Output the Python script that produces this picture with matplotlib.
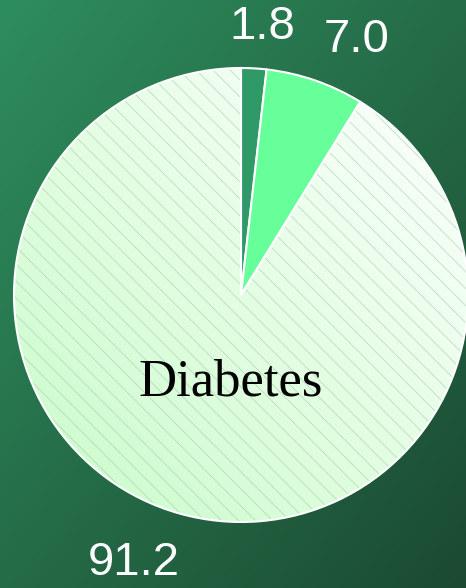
import numpy as np
import matplotlib
matplotlib.use("Agg")
import matplotlib.pyplot as plt
from matplotlib.colors import LinearSegmentedColormap

# share of population (%)
labels = ["1.8", "7.0", "91.2"]
values = [1.8, 7.0, 91.2]
colors = ["#2f9a68", "#66ff99", "#e6ffea"]
center_label = "Diabetes"

W, H = 466, 588
fig = plt.figure(figsize=(W / 100, H / 100), dpi=100)
ax = fig.add_axes([0, 0, 1, 1])

cx, cy, r = 241, 293, 227
wedges, _ = ax.pie(values, colors=colors, startangle=90, counterclock=False,
                   center=(cx, cy), radius=r, frame=True,
                   wedgeprops=dict(edgecolor="white", linewidth=1.5))
ax.set_xlim(0, W)
ax.set_ylim(0, H)
ax.set_aspect("auto")
ax.axis("off")

# diagonal background gradient, lighter at top-left
yy, xx = np.mgrid[0:1:200j, 0:1:200j]
t = (xx + (1 - yy)) / 2
bg = LinearSegmentedColormap.from_list("bg", ["#2e8d5e", "#1b4a31"])
ax.imshow(bg(t), extent=[0, W, 0, H], origin="lower", aspect="auto", zorder=0)

# soft gradient fill inside the large wedge, whitest at top-right
big = wedges[2]
g = (xx + yy) / 2
fill = LinearSegmentedColormap.from_list("fill", ["#c8fcc8", "#ffffff"])
im = ax.imshow(fill(g), extent=[cx - r, cx + r, cy - r, cy + r], origin="lower",
               aspect="auto", zorder=2)
im.set_clip_path(big)

# thin diagonal hatch lines
step = 17
for x0 in np.arange(-H, W + H, step):
    ln, = ax.plot([x0, x0 + H], [H, 0], color="#a4c8ac", lw=0.6,
                  ls=(0, (1, 0.6)), zorder=3)
    ln.set_clip_path(big)

# white outlines on top
for w in wedges:
    w.set_zorder(4)
big.set_facecolor("none")

# value labels outside the slices
label_pos = [(262, 561), (357, 548), (134, 25)]
for lab, (lx, ly) in zip(labels, label_pos):
    ax.text(lx, ly, lab, ha="center", va="center", color="white", fontsize=34,
            family="Liberation Sans", zorder=5)

ax.text(231, 205, center_label, ha="center", va="center", color="black",
        fontsize=38, family="Liberation Serif", zorder=5)

fig.savefig("out.png", dpi=100)
